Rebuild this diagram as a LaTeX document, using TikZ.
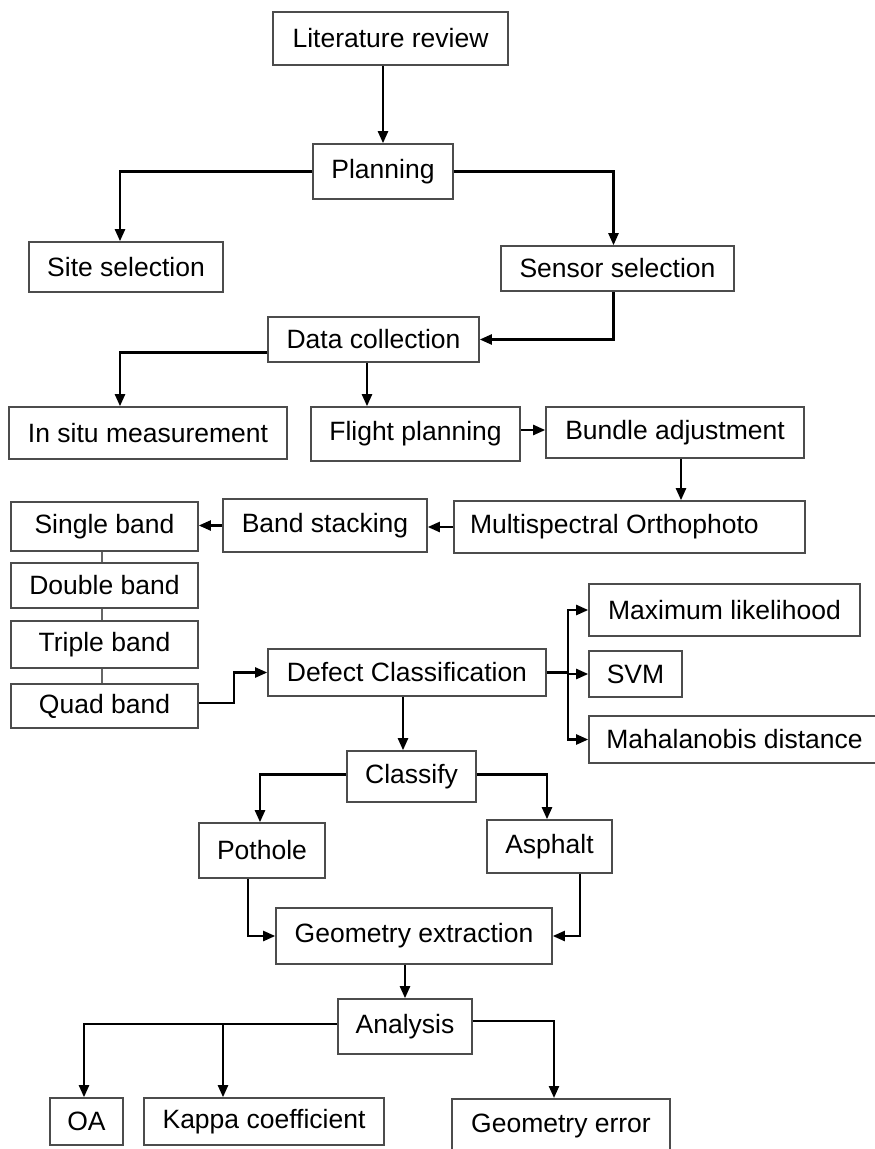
\documentclass[tikz,border=0pt]{standalone}
\usepackage{fontspec}
\setmainfont{Liberation Sans}
\usetikzlibrary{arrows.meta, positioning, calc}

\begin{document}
\begin{tikzpicture}[
    x=1pt, y=-1pt,
    step_box/.style={
        rectangle,
        draw=black!70,
        line width=1.6pt,
        inner sep=0pt,
        align=center,
        font=\fontsize{26.5}{31}\selectfont
    },
    box_size/.style 2 args={
        minimum width=#1pt,
        minimum height=#2pt
    },
    flow_arrow/.style={
        -{Triangle[length=12pt,width=10pt]},
        line width=2.3pt,
        draw=black
    },
    flow_line/.style={
        line width=2.3pt,
        draw=black
    },
    band_link/.style={
        line width=1.1pt,
        draw=black!60
    }
]

\clip (0,0) rectangle (875,1149);

% Planning stage
\node[step_box, box_size={235}{53}] (lit) at (390.5,38.5) {Literature review};
\node[step_box, box_size={140}{55}] (plan) at (383,171.5) {Planning};
\node[step_box, box_size={194}{50}] (site) at (126,267) {Site selection};
\node[step_box, box_size={233}{45}] (sensor) at (617.5,268.5) {Sensor selection};

% Data collection and processing
\node[step_box, box_size={211}{45}] (datac) at (373.5,339.5) {Data collection};
\node[step_box, box_size={278}{52}] (insitu) at (148,433) {In situ measurement};
\node[step_box, box_size={209}{54}] (flight) at (415.5,434) {Flight planning};
\node[step_box, box_size={258}{51}] (bundle) at (675,432.5) {Bundle adjustment};
\node[step_box, box_size={351}{52}, text width=319pt, align=flush left] (ortho) at (629.5,527) {Multispectral Orthophoto};
\node[step_box, box_size={204}{53}] (stack) at (325,525.5) {Band stacking};

% Band combinations
\node[step_box, box_size={187}{49}] (single) at (104.5,526.5) {Single band};
\node[step_box, box_size={187}{45}] (double) at (104.5,585.5) {Double band};
\node[step_box, box_size={187}{47}] (triple) at (104.5,644.5) {Triple band};
\node[step_box, box_size={187}{44}] (quad) at (104.5,706) {Quad band};

% Classification
\node[step_box, box_size={278}{47}] (defect) at (407,672.5) {Defect Classification};
\node[step_box, box_size={271}{52}] (maxl) at (724.5,610) {Maximum likelihood};
\node[step_box, box_size={93}{46}] (svm) at (635.5,674) {SVM};
\node[step_box, box_size={291}{47}] (mahal) at (734.5,739.5) {Mahalanobis distance};
\node[step_box, box_size={129}{51}] (classify) at (411.5,776.5) {Classify};
\node[step_box, box_size={126}{55}] (pothole) at (262,850.5) {Pothole};
\node[step_box, box_size={125}{53}] (asphalt) at (549.5,846.5) {Asphalt};

% Extraction and accuracy
\node[step_box, box_size={276}{56}] (geom) at (414,936) {Geometry extraction};
\node[step_box, box_size={134}{55}] (analysis) at (405,1026.5) {Analysis};
\node[step_box, box_size={73}{47}] (oa) at (86.5,1121.5) {OA};
\node[step_box, box_size={240}{47}] (kappa) at (264,1121.5) {Kappa coefficient};
\node[step_box, minimum width=218pt, text height=34pt, text depth=28pt, anchor=north] (geoerr) at (561,1098) {Geometry error};

% Connectors
\draw[flow_arrow] (lit.south -| plan.north) -- (plan.north);
\draw[flow_arrow] (plan.west) -| ([xshift=-6pt]site.north);
\draw[flow_arrow] (plan.east) -| ([xshift=-4pt]sensor.north);
\draw[flow_arrow] ([xshift=-4pt]sensor.south) |- (datac.east);

\draw[flow_arrow] ([yshift=-13pt]datac.west) -| ([xshift=-28pt]insitu.north);
\draw[flow_arrow] ([xshift=-6.5pt]datac.south) -- ([xshift=-6.5pt]datac.south |- flight.north);
\draw[flow_arrow] ([yshift=4pt]flight.east) -- ([yshift=4pt]flight.east -| bundle.west);
\draw[flow_arrow] ([xshift=6pt]bundle.south) -- ([xshift=6pt]bundle.south |- ortho.north);
\draw[flow_arrow] (ortho.west) -- (ortho.west -| stack.east);
\draw[flow_arrow] (stack.west) -- (stack.west -| single.east);

\foreach \a/\b in {single/double, double/triple, triple/quad}
    \draw[band_link] ([xshift=-2.5pt]\a.south) -- ([xshift=-2.5pt]\b.north);

\draw[flow_arrow] ([yshift=3pt]quad.east) -- ++(35,0) |- (defect.west);

\coordinate (fork) at ($(defect.east)+(21,0)$);
\draw[flow_line] (defect.east) -- (fork);
\foreach \m in {maxl, svm, mahal}
    \draw[flow_arrow] (fork) |- (\m.west);

\draw[flow_arrow] ([xshift=-4pt]defect.south) -- ([xshift=-4pt]defect.south |- classify.north);
\draw[flow_arrow] ([yshift=2pt]classify.west) -| ([xshift=-2pt]pothole.north);
\draw[flow_arrow] ([yshift=2pt]classify.east) -| ([xshift=-2.5pt]asphalt.north);
\draw[flow_arrow] ([xshift=-14pt]pothole.south) |- (geom.west);
\draw[flow_arrow] ([xshift=30.5pt]asphalt.south) |- (geom.east);

\draw[flow_arrow] (analysis.north |- geom.south) -- (analysis.north);
\draw[flow_arrow] ([yshift=2.5pt]analysis.west) -| ([xshift=-2.5pt]oa.north);
\draw[flow_arrow] ([xshift=-41pt,yshift=2.5pt]kappa.north |- analysis.west) -- ([xshift=-41pt]kappa.north);
\draw[flow_arrow] ([yshift=5.5pt]analysis.east) -| ([xshift=-7pt]geoerr.north);

\end{tikzpicture}
\end{document}
